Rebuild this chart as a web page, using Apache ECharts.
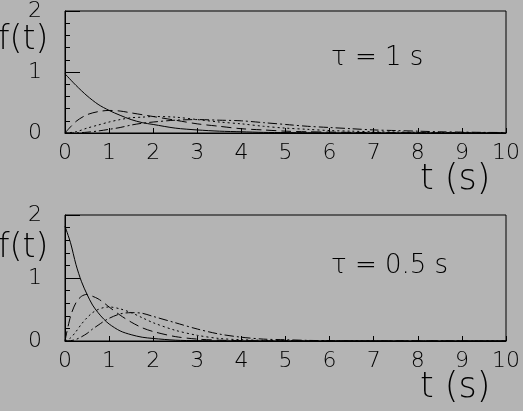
<!DOCTYPE html>
<html>
<head>
<meta charset="utf-8">
<script src="https://cdn.jsdelivr.net/npm/echarts@6/dist/echarts.min.js"></script>
<style>
  html, body { margin: 0; padding: 0; background: #b4b4b4; }
  #chart { width: 523px; height: 411px; }
</style>
</head>
<body>
<div id="chart"></div>
<script>
// tau = 1 s panel
const tTop = [0, 0.25, 0.5, 0.75, 1, 1.25, 1.5, 1.75, 2, 2.5, 3, 3.5, 4, 4.5, 5, 5.5, 6, 6.5, 7, 7.5, 8, 8.5, 9, 9.5, 10]
const topSolid = [0.97, 0.78, 0.61, 0.47, 0.37, 0.29, 0.22, 0.17, 0.14, 0.08, 0.05, 0.03, 0.02, 0.01, 0.007, 0.004, 0.002, 0.0015, 0.001, 0, 0, 0, 0, 0, 0]
const topDashed = [0, 0.19, 0.3, 0.35, 0.37, 0.36, 0.33, 0.3, 0.27, 0.21, 0.15, 0.11, 0.07, 0.05, 0.03, 0.02, 0.015, 0.01, 0.006, 0.004, 0.003, 0.002, 0.001, 0.001, 0]
const topDotted = [0, 0.02, 0.08, 0.13, 0.18, 0.22, 0.25, 0.26, 0.27, 0.26, 0.22, 0.18, 0.15, 0.11, 0.08, 0.06, 0.04, 0.03, 0.02, 0.016, 0.011, 0.007, 0.005, 0.003, 0.002]
const topDashDot = [0, 0.002, 0.013, 0.033, 0.06, 0.09, 0.13, 0.16, 0.18, 0.21, 0.22, 0.21, 0.2, 0.17, 0.14, 0.11, 0.09, 0.07, 0.05, 0.04, 0.03, 0.02, 0.015, 0.01, 0.008]

// tau = 0.5 s panel
const tBot = [0, 0.125, 0.25, 0.375, 0.5, 0.625, 0.75, 0.875, 1, 1.25, 1.5, 1.75, 2, 2.5, 3, 3.5, 4, 4.5, 5, 5.5, 6, 7, 8, 9, 10]
const botSolid = [1.82, 1.56, 1.21, 0.94, 0.74, 0.57, 0.45, 0.35, 0.27, 0.16, 0.1, 0.06, 0.04, 0.013, 0.005, 0.002, 0.001, 0, 0, 0, 0, 0, 0, 0, 0]
const botDashed = [0, 0.39, 0.61, 0.71, 0.74, 0.71, 0.67, 0.61, 0.54, 0.41, 0.3, 0.21, 0.15, 0.07, 0.03, 0.013, 0.005, 0.002, 0.001, 0, 0, 0, 0, 0, 0]
const botDotted = [0, 0.049, 0.15, 0.27, 0.37, 0.45, 0.5, 0.53, 0.54, 0.51, 0.45, 0.37, 0.29, 0.17, 0.09, 0.04, 0.02, 0.01, 0.005, 0.002, 0.001, 0, 0, 0, 0]
const botDashDot = [0, 0.004, 0.025, 0.067, 0.12, 0.19, 0.25, 0.31, 0.36, 0.43, 0.45, 0.44, 0.39, 0.29, 0.19, 0.11, 0.06, 0.03, 0.02, 0.01, 0.005, 0.001, 0, 0, 0]

const xTicks = [0, 1, 2, 3, 4, 5, 6, 7, 8, 9, 10]
const yTicks = [0, 1, 2]
const tauLabels = ["τ = 1 s", "τ = 0.5 s"]

const FONT = "DejaVu Sans"
const pair = (ts, vs) => ts.map((t, i) => [t, vs[i]])

const lineStyles = [
  "solid",
  [10, 5],
  [2, 3],
  [9, 3, 2, 3]
]

const mkSeries = (idx, ts, arrs) =>
  arrs.map((vs, k) => ({
    type: "line",
    xAxisIndex: idx,
    yAxisIndex: idx,
    data: pair(ts, vs),
    smooth: 0.3,
    showSymbol: false,
    silent: true,
    lineStyle: { color: "#000", width: 1, type: lineStyles[k] }
  }))

const mkX = idx => ({
  type: "value",
  gridIndex: idx,
  min: 0,
  max: 10,
  interval: 1,
  splitLine: { show: false },
  axisLine: { lineStyle: { color: "#000" } },
  axisTick: { inside: true, length: 5, lineStyle: { color: "#000" } },
  axisLabel: {
    color: "#000",
    fontFamily: FONT,
    fontWeight: 200,
    fontSize: 22,
    margin: 9,
    formatter: v => (xTicks.includes(v) ? String(v) : "")
  }
})

const mkY = idx => ({
  type: "value",
  gridIndex: idx,
  min: 0,
  max: 2,
  interval: 1,
  splitLine: { show: false },
  axisLine: { lineStyle: { color: "#000" } },
  axisTick: { inside: true, length: 15, lineStyle: { color: "#000" } },
  minorTick: { show: true, splitNumber: 5, length: 5, lineStyle: { color: "#000" } },
  axisLabel: {
    color: "#000",
    fontFamily: FONT,
    fontWeight: 200,
    fontSize: 22,
    margin: 30,
    align: "center",
    formatter: v => (yTicks.includes(v) ? String(v) : "")
  }
})

const txt = (left, top, text, size) => ({
  type: "text",
  left: left,
  top: top,
  style: { text: text, fill: "#000", font: "200 " + size + "px '" + FONT + "'" }
})

const chart = echarts.init(document.getElementById("chart"))
chart.setOption({
  backgroundColor: "#b4b4b4",
  animation: false,
  grid: [
    { left: 65, right: 14, top: 7, height: 126, show: true, borderColor: "#000", borderWidth: 1, backgroundColor: "transparent" },
    { left: 65, right: 14, top: 215, height: 126, show: true, borderColor: "#000", borderWidth: 1, backgroundColor: "transparent" }
  ],
  xAxis: [mkX(0), mkX(1)],
  yAxis: [mkY(0), mkY(1)],
  series: [
    ...mkSeries(0, tTop, [topSolid, topDashed, topDotted, topDashDot]),
    ...mkSeries(1, tBot, [botSolid, botDashed, botDotted, botDashDot])
  ],
  graphic: [
    txt(-2, 24, "f(t)", 33),
    txt(-2, 232, "f(t)", 33),
    txt(420, 162, "t (s)", 35),
    txt(420, 370, "t (s)", 35),
    txt(331, 45, tauLabels[0], 26),
    txt(331, 253, tauLabels[1], 26)
  ]
})
</script>
</body>
</html>
